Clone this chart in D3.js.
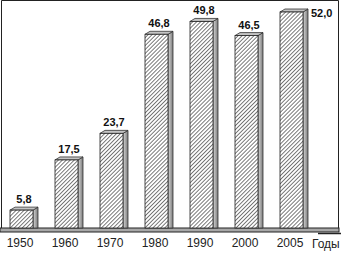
<!DOCTYPE html>
<html>
<head>
<meta charset="utf-8">
<script src="https://cdn.jsdelivr.net/npm/d3@7"></script>
<style>
  html, body { margin: 0; padding: 0; background: #fff; }
  svg { display: block; }
</style>
</head>
<body>
<svg id="chart"></svg>
<script>
const years = ["1950", "1960", "1970", "1980", "1990", "2000", "2005"];
const values = [5.8, 17.5, 23.7, 46.8, 49.8, 46.5, 52.0];
const axisTitle = "Годы";

const width = 341;
const height = 266;
const floorTop = 228;
const floorBottom = 232;

const barW = 23;   // front face
const depth = 5;   // side face
const lift = 3;    // top face

const svg = d3.select("#chart")
  .attr("width", width)
  .attr("height", height);

const defs = svg.append("defs");

const hatch = defs.append("pattern")
  .attr("id", "hatch")
  .attr("patternUnits", "userSpaceOnUse")
  .attr("width", 2.8)
  .attr("height", 2.8)
  .attr("patternTransform", "rotate(45)");
hatch.append("rect").attr("width", 2.8).attr("height", 2.8).attr("fill", "#fff");
hatch.append("line")
  .attr("x1", 0).attr("y1", 0).attr("x2", 0).attr("y2", 2.8)
  .attr("stroke", "#222").attr("stroke-width", 1.2);

const sideGrad = defs.append("linearGradient")
  .attr("id", "side")
  .attr("x1", 0).attr("x2", 1).attr("y1", 0).attr("y2", 0);
sideGrad.append("stop").attr("offset", 0).attr("stop-color", "#d8d8d8");
sideGrad.append("stop").attr("offset", 1).attr("stop-color", "#7a7a7a");

const x = d3.scalePoint()
  .domain(years)
  .range([21.5, 291.5]);

const y = d3.scaleLinear()
  .domain([0, 52])
  .range([235, 12]);

// frame
svg.append("path")
  .attr("d", `M1.5,${floorTop} V0.5 H338.5 V${floorTop}`)
  .attr("fill", "none")
  .attr("stroke", "#222")
  .attr("stroke-width", 1);

// floor
svg.append("rect")
  .attr("x", 0)
  .attr("y", floorTop)
  .attr("width", 339)
  .attr("height", floorBottom - floorTop)
  .attr("fill", "#a8a8a8")
  .attr("stroke", "#222")
  .attr("stroke-width", 1);
svg.append("line")
  .attr("x1", 318).attr("x2", 341)
  .attr("y1", floorBottom + 1.5).attr("y2", floorBottom + 1.5)
  .attr("stroke", "#222").attr("stroke-width", 1.5);

const bars = svg.append("g")
  .selectAll("g.bar")
  .data(years.map((yr, i) => ({ year: yr, value: values[i] })))
  .join("g")
  .attr("class", "bar");

// side face
bars.append("path")
  .attr("d", d => {
    const x0 = x(d.year) + barW / 2;
    const top = y(d.value);
    return `M${x0},${top} L${x0 + depth},${top - lift} L${x0 + depth},${floorTop} L${x0},${floorTop} Z`;
  })
  .attr("fill", "url(#side)")
  .attr("stroke", "#333")
  .attr("stroke-width", 0.8);

// top face
bars.append("path")
  .attr("d", d => {
    const x0 = x(d.year) - barW / 2;
    const top = y(d.value);
    return `M${x0},${top} L${x0 + depth},${top - lift} L${x0 + barW + depth},${top - lift} L${x0 + barW},${top} Z`;
  })
  .attr("fill", "#c4c4c4")
  .attr("stroke", "#333")
  .attr("stroke-width", 0.8);

// front face
bars.append("rect")
  .attr("x", d => x(d.year) - barW / 2)
  .attr("y", d => y(d.value))
  .attr("width", barW)
  .attr("height", d => floorTop - y(d.value))
  .attr("fill", "url(#hatch)")
  .attr("stroke", "#222")
  .attr("stroke-width", 0.8);

// value labels
const fmt = v => d3.format(".1f")(v).replace(".", ",");
bars.append("text")
  .attr("x", (d, i) => i === years.length - 1 ? x(d.year) + barW / 2 + depth + 3 : x(d.year) + depth / 2)
  .attr("y", (d, i) => i === years.length - 1 ? y(d.value) + 5 : y(d.value) - lift - 4)
  .attr("text-anchor", (d, i) => i === years.length - 1 ? "start" : "middle")
  .attr("font-family", "Liberation Sans, Arial, sans-serif")
  .attr("font-weight", "bold")
  .attr("font-size", 11)
  .attr("fill", "#111")
  .text(d => fmt(d.value));

// year labels
const xAxis = svg.append("g")
  .attr("transform", `translate(0,${floorBottom})`)
  .call(d3.axisBottom(x).tickSize(0).tickPadding(6));
xAxis.select(".domain").remove();
xAxis.selectAll("text")
  .attr("dx", -2)
  .attr("font-family", "Liberation Sans, Arial, sans-serif")
  .attr("font-size", 12)
  .attr("fill", "#222");

svg.append("text")
  .attr("x", 312)
  .attr("y", 248)
  .attr("font-family", "Liberation Sans, Arial, sans-serif")
  .attr("font-size", 12)
  .attr("fill", "#222")
  .text(axisTitle);
</script>
</body>
</html>
